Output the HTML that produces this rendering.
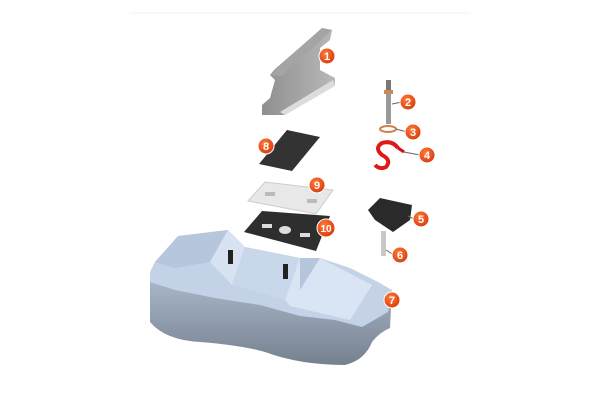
<!DOCTYPE html>
<html><head><style>
html,body{margin:0;padding:0;background:#fff;}
svg{display:block;}
text{font-family:"Liberation Sans",sans-serif;font-weight:bold;fill:#fff;font-size:11px;text-anchor:middle;}
</style></head><body>
<svg width="600" height="400" viewBox="0 0 600 400">
<defs>
<linearGradient id="side" x1="0" y1="0" x2="0" y2="1"><stop offset="0" stop-color="#aab8cb"/><stop offset="1" stop-color="#76818f"/></linearGradient>
<linearGradient id="rail" x1="0" y1="0" x2="1" y2="0"><stop offset="0" stop-color="#8f8f8f"/><stop offset="1" stop-color="#b8b8b8"/></linearGradient>
<radialGradient id="badge" cx="0.4" cy="0.35" r="0.7"><stop offset="0" stop-color="#ff7a3a"/><stop offset="1" stop-color="#d83a0a"/></radialGradient>
</defs>
<line x1="130" y1="13" x2="470" y2="13" stroke="#f0f0f0"/>
<!-- sleeper -->
<path d="M150,278 L150,322 Q165,340 200,342 Q240,345 265,352 Q300,365 345,365 Q365,360 372,342 Q380,332 390,328 L392,290 Z" fill="url(#side)"/>
<path d="M150,272 L155,262 L178,236 L228,230 L245,247 L300,258 L320,258 L350,268 L378,282 L392,290 L388,312 L362,327 L335,320 L300,316 L260,305 L215,298 L175,290 L150,282 Z" fill="#c3d2e6"/>
<path d="M155,262 L178,236 L228,230 L210,262 L175,268 Z" fill="#b6c6dc"/>
<path d="M210,262 L228,230 L245,247 L232,285 Z" fill="#d7e3f2"/>
<path d="M232,285 L245,247 L300,258 L285,300 Z" fill="#c9d7ea"/>
<path d="M285,300 L300,258 L320,258 L372,285 L350,320 L290,306 Z" fill="#d9e5f4"/>
<path d="M300,258 L320,258 L300,290 Z" fill="#b5c5db"/>
<rect x="228" y="250" width="5" height="14" fill="#222"/>
<rect x="283" y="264" width="5" height="15" fill="#222"/>
<!-- rail -->
<path d="M262,105 L270,98 L275,80 L270,75 L274,70 L322,28 L332,30 L330,40 L320,48 L320,70 L335,78 L335,85 L285,115 L262,115 Z" fill="url(#rail)"/>
<path d="M270,75 L322,28 L332,30 L282,76 Z" fill="#a4a4a4"/>
<path d="M280,112 L333,80 L335,86 L285,115 Z" fill="#dcdcdc"/>
<!-- pads -->
<path d="M259,164 L287,130 L320,137 L292,171 Z" fill="#333"/>
<path d="M248,201 L265,182 L333,190 L316,214 Z" fill="#e8e8e8" stroke="#ccc"/>
<rect x="265" y="192" width="10" height="4" fill="#bbb"/><rect x="307" y="199" width="10" height="4" fill="#bbb"/>
<path d="M244,232 L262,211 L330,216 L316,251 Z" fill="#2e2e2e"/>
<rect x="262" y="224" width="10" height="4" fill="#ddd"/><ellipse cx="285" cy="230" rx="6" ry="4" fill="#ddd"/><rect x="300" y="233" width="10" height="4" fill="#ddd"/>
<!-- screw -->
<rect x="386" y="80" width="5" height="10" fill="#777"/>
<rect x="384" y="90" width="9" height="4" fill="#c98a55"/>
<rect x="386" y="94" width="5" height="30" fill="#999"/>
<ellipse cx="388" cy="129" rx="8" ry="3" fill="none" stroke="#d08050" stroke-width="2"/>
<path d="M398,148 Q392,140 382,143 Q374,148 382,155 Q392,160 386,167 Q380,170 375,165" fill="none" stroke="#e01818" stroke-width="4"/>
<path d="M398,148 L404,152" fill="none" stroke="#d01010" stroke-width="3"/>
<!-- clip 5 -->
<path d="M368,210 L380,198 L412,205 L410,220 L393,232 L375,220 Z" fill="#2a2a2a"/>
<rect x="381" y="231" width="5" height="25" fill="#c8c8c8"/>
<!-- leaders -->
<g stroke="#666" stroke-width="1"><line x1="392" y1="104" x2="402" y2="102"/><line x1="396" y1="129" x2="407" y2="132"/><line x1="404" y1="152" x2="420" y2="155"/><line x1="408" y1="216" x2="414" y2="219"/><line x1="386" y1="250" x2="394" y2="255"/></g>
<g>
<circle cx="327" cy="56" r="8" fill="url(#badge)" stroke="#fff"/><text x="327" y="60">1</text>
<circle cx="408" cy="102" r="8" fill="url(#badge)" stroke="#fff"/><text x="408" y="106">2</text>
<circle cx="413" cy="132" r="8" fill="url(#badge)" stroke="#fff"/><text x="413" y="136">3</text>
<circle cx="427" cy="155" r="8" fill="url(#badge)" stroke="#fff"/><text x="427" y="159">4</text>
<circle cx="421" cy="219" r="8" fill="url(#badge)" stroke="#fff"/><text x="421" y="223">5</text>
<circle cx="400" cy="255" r="8" fill="url(#badge)" stroke="#fff"/><text x="400" y="259">6</text>
<circle cx="392" cy="300" r="8" fill="url(#badge)" stroke="#fff"/><text x="392" y="304">7</text>
<circle cx="266" cy="146" r="8" fill="url(#badge)" stroke="#fff"/><text x="266" y="150">8</text>
<circle cx="317" cy="185" r="8" fill="url(#badge)" stroke="#fff"/><text x="317" y="189">9</text>
<circle cx="326" cy="228" r="9" fill="url(#badge)" stroke="#fff"/><text x="326" y="232" style="font-size:10px">10</text>
</g>
</svg>
</body></html>
